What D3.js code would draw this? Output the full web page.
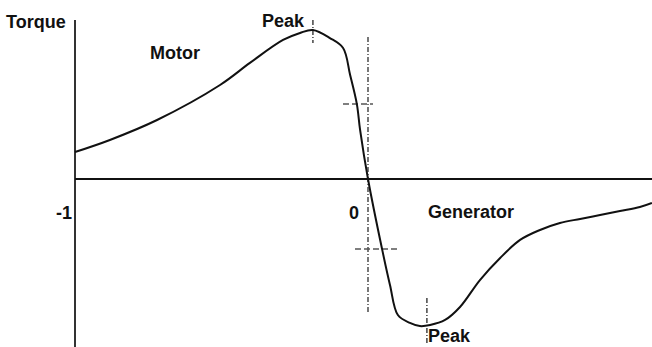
<!DOCTYPE html>
<html>
<head>
<meta charset="utf-8">
<script src="https://cdn.jsdelivr.net/npm/d3@7"></script>
<style>
  body { margin: 0; background: #fff; }
  text { font-family: 'Liberation Sans', Arial, sans-serif; font-weight: bold; fill: #111; }
</style>
</head>
<body>
<div id="chart"></div>
<script>
// slip (x) and torque (y)
var slip = [-1, -0.881, -0.720, -0.505, -0.403, -0.290, -0.232, -0.188, -0.130, -0.085, -0.061, -0.038, -0.027, 0,
  0.048, 0.075, 0.102, 0.143, 0.177, 0.212, 0.263, 0.314, 0.382, 0.451, 0.519, 0.587, 0.655, 0.724, 0.792, 0.860, 0.928, 0.969]
var torque = [0.181, 0.262, 0.396, 0.631, 0.779, 0.933, 0.980, 1.0, 0.946, 0.879, 0.698, 0.503, 0.329, 0,
  -0.470, -0.711, -0.913, -0.966, -0.987, -0.980, -0.946, -0.859, -0.678, -0.530, -0.409, -0.342, -0.295, -0.268, -0.242, -0.215, -0.188, -0.161]
var tickValues = [-1, 0]
var tickLabels = ['-1', '0']
var peakSlip = [-0.188, 0.201]
var crossTorque = [0.503, -0.470]

var width = 652, height = 347

var svg = d3.select('#chart').append('svg')
  .attr('width', width).attr('height', height)

var x = d3.scaleLinear().domain([-1, 0]).range([75, 368])
var y = d3.scaleLinear().domain([0, 1]).range([179, 30])

// axes
svg.append('line')
  .attr('x1', x(-1)).attr('x2', x(-1))
  .attr('y1', y(1.067)).attr('y2', height)
  .attr('stroke', '#333').attr('stroke-width', 2)
svg.append('line')
  .attr('x1', x(-1)).attr('x2', width)
  .attr('y1', y(0)).attr('y2', y(0))
  .attr('stroke', '#111').attr('stroke-width', 2)

// tick labels
var tickShift = [-3, -9]
svg.selectAll('.tick').data(tickValues).enter().append('text')
  .attr('x', function (d, i) { return x(d) + tickShift[i] })
  .attr('y', 219)
  .attr('text-anchor', 'end')
  .style('font-size', '18px')
  .text(function (d, i) { return tickLabels[i] })

// dash-dot vertical through zero
svg.append('line')
  .attr('x1', x(0)).attr('x2', x(0))
  .attr('y1', y(0.953)).attr('y2', y(-0.906))
  .attr('stroke', '#555').attr('stroke-width', 1.6)
  .attr('stroke-dasharray', '5,2,1,2')

// horizontal dashed crosses
svg.append('line')
  .attr('x1', 343).attr('x2', 373)
  .attr('y1', y(crossTorque[0])).attr('y2', y(crossTorque[0]))
  .attr('stroke', '#555').attr('stroke-width', 1.6).attr('stroke-dasharray', '6,3')
svg.append('line')
  .attr('x1', 355).attr('x2', 398)
  .attr('y1', y(crossTorque[1])).attr('y2', y(crossTorque[1]))
  .attr('stroke', '#555').attr('stroke-width', 1.6).attr('stroke-dasharray', '6,3')

// peak markers
svg.append('line')
  .attr('x1', x(peakSlip[0])).attr('x2', x(peakSlip[0]))
  .attr('y1', 20).attr('y2', 43)
  .attr('stroke', '#444').attr('stroke-width', 1.5).attr('stroke-dasharray', '5,2,1,2')
svg.append('line')
  .attr('x1', x(peakSlip[1])).attr('x2', x(peakSlip[1]))
  .attr('y1', 298).attr('y2', 344)
  .attr('stroke', '#444').attr('stroke-width', 1.5).attr('stroke-dasharray', '5,2,1,2')

// torque curve
var pts = slip.map(function (s, i) { return [s, torque[i]] })
svg.append('path')
  .datum(pts)
  .attr('fill', 'none')
  .attr('stroke', '#111')
  .attr('stroke-width', 2)
  .attr('d', d3.line()
    .x(function (d) { return x(d[0]) })
    .y(function (d) { return y(d[1]) })
    .curve(d3.curveCatmullRom.alpha(0.5)))

// labels
function label(t, px, py) {
  svg.append('text').attr('x', px).attr('y', py).style('font-size', '18px').text(t)
}
label('Torque', 6, 28)
label('Motor', 150, 59)
label('Peak', 262, 27)
label('Generator', 428, 218)
label('Peak', 428, 342)
</script>
</body>
</html>
